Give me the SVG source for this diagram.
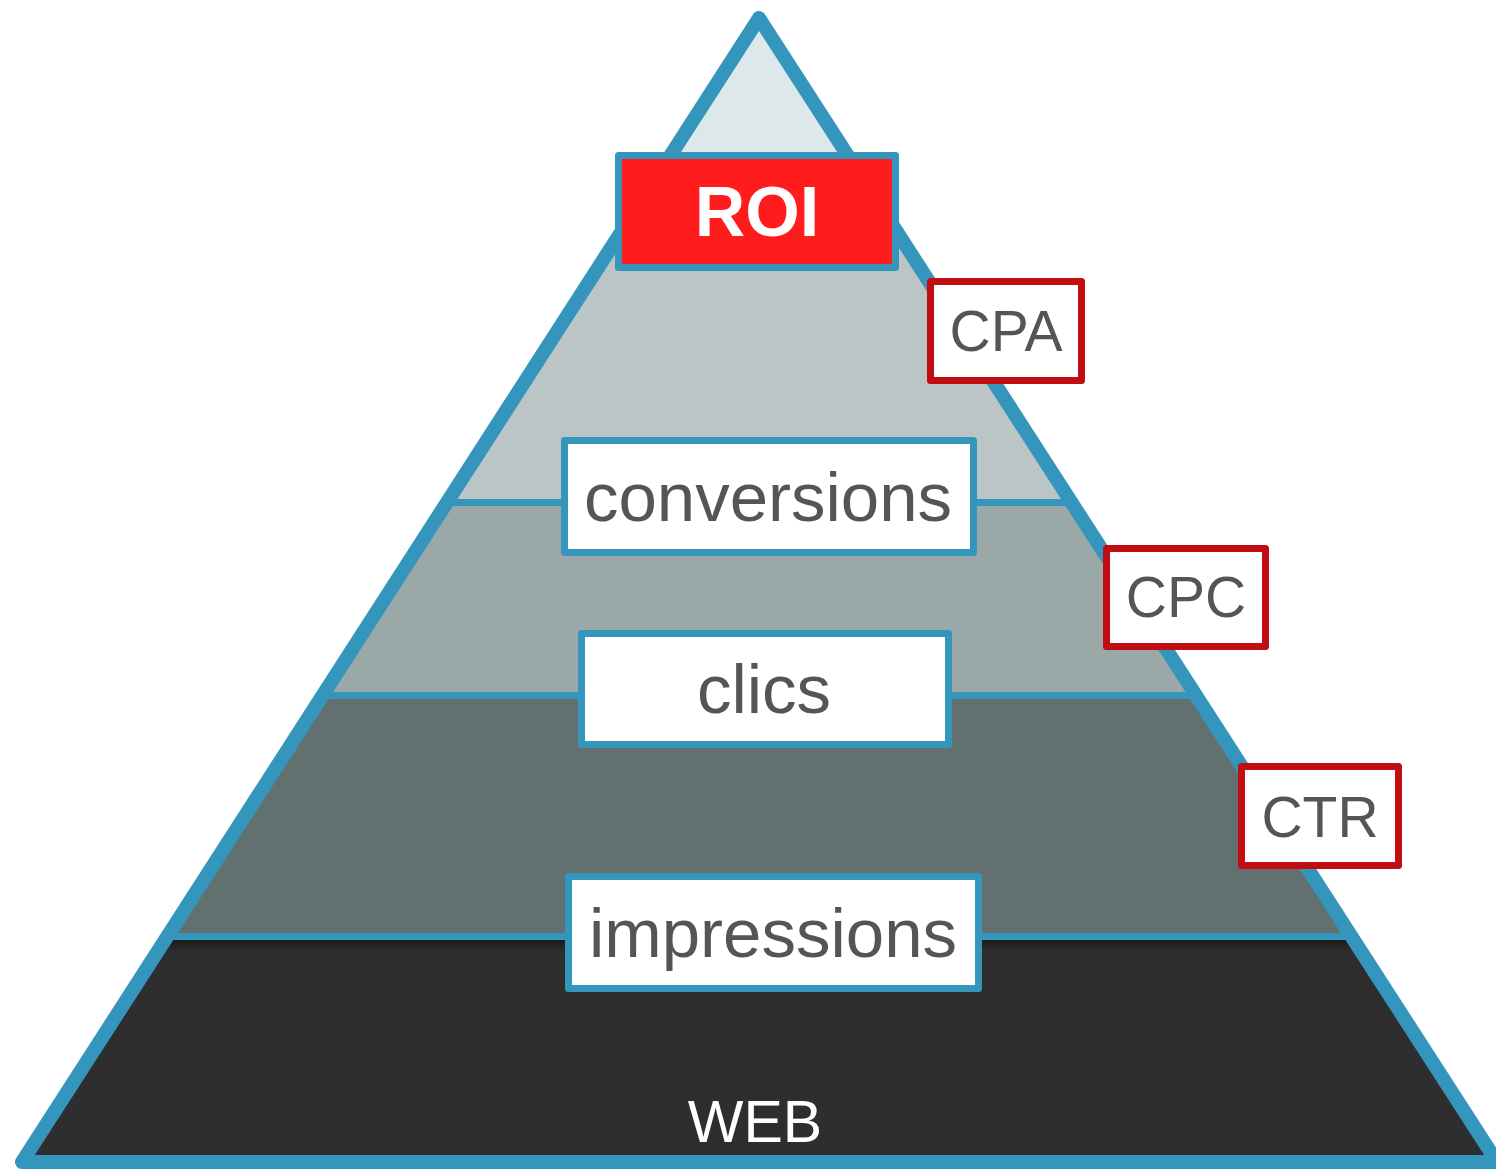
<svg xmlns="http://www.w3.org/2000/svg" width="1496" height="1172" viewBox="0 0 1496 1172">
  <style>
    .label { font-family: "Liberation Sans", Arial, sans-serif; text-anchor: middle; }
    .tier-box { fill: #ffffff; stroke: #3596bd; stroke-width: 7; stroke-linejoin: round; }
    .metric-box { fill: #ffffff; stroke: #bf0d12; stroke-width: 7; stroke-linejoin: round; }
    .tier-text { font-size: 69px; fill: #555555; }
    .metric-text { font-size: 57px; fill: #555555; }
    .divider { stroke: #3596bd; stroke-width: 7; }
  </style>
  <defs>
    <clipPath id="pyramid-clip">
      <polygon points="759,18 22,1162 1497,1162"/>
    </clipPath>
    <linearGradient id="under-line" x1="0" y1="0" x2="0" y2="1">
      <stop offset="0" stop-color="#000000" stop-opacity="0.45"/>
      <stop offset="1" stop-color="#000000" stop-opacity="0"/>
    </linearGradient>
    <filter id="soft-shadow" x="-5%" y="-5%" width="110%" height="110%">
      <feDropShadow dx="3" dy="3" stdDeviation="3" flood-color="#000000" flood-opacity="0.3"/>
    </filter>
  </defs>

  <rect width="1496" height="1172" fill="#ffffff"/>

  <!-- pyramid body: stacked tiers -->
  <g id="pyramid" filter="url(#soft-shadow)">
    <g clip-path="url(#pyramid-clip)">
      <rect x="0" y="0" width="1496" height="240" fill="#dde8eb"/>
      <rect x="0" y="240" width="1496" height="262" fill="#bbc5c6"/>
      <rect x="0" y="502" width="1496" height="193" fill="#9ba8a8"/>
      <rect x="0" y="695" width="1496" height="241" fill="#626f6f"/>
      <rect x="0" y="936" width="1496" height="236" fill="#2f2f2f"/>
      <rect x="0" y="940" width="1496" height="12" fill="url(#under-line)"/>
    </g>
  </g>

  <!-- horizontal tier separators -->
  <g id="connectors" clip-path="url(#pyramid-clip)">
    <line class="divider" x1="0" y1="502.5" x2="1496" y2="502.5"/>
    <line class="divider" x1="0" y1="695.5" x2="1496" y2="695.5"/>
    <line class="divider" x1="0" y1="936.5" x2="1496" y2="936.5"/>
  </g>

  <!-- pyramid outline -->
  <g id="outline">
    <polygon points="759,18 22,1162 1497,1162" fill="none" stroke="#3596bd" stroke-width="14" stroke-linejoin="round"/>
  </g>

  <!-- tier labels -->
  <g id="roi">
    <rect x="618.5" y="155.5" width="277" height="112" fill="#ff1c1c" stroke="#3596bd" stroke-width="7" stroke-linejoin="round"/>
    <text class="label" x="757" y="236" font-size="70" font-weight="bold" fill="#ffffff">ROI</text>
  </g>
  <g id="conversions">
    <rect class="tier-box" x="564.5" y="440.5" width="409" height="112"/>
    <text class="label tier-text" x="768" y="521">conversions</text>
  </g>
  <g id="clics">
    <rect class="tier-box" x="581.5" y="633.5" width="367" height="111"/>
    <text class="label tier-text" x="764" y="713">clics</text>
  </g>
  <g id="impressions">
    <rect class="tier-box" x="568.5" y="876.5" width="410" height="112"/>
    <text class="label tier-text" x="773" y="957">impressions</text>
  </g>
  <g id="web">
    <text class="label" x="755" y="1142" font-size="59" fill="#ffffff">WEB</text>
  </g>

  <!-- ratio labels along the right edge -->
  <g id="cpa">
    <rect class="metric-box" x="930.5" y="281.5" width="151" height="99"/>
    <text class="label metric-text" x="1006" y="351">CPA</text>
  </g>
  <g id="cpc">
    <rect class="metric-box" x="1106.5" y="548.5" width="159" height="98"/>
    <text class="label metric-text" x="1186" y="617">CPC</text>
  </g>
  <g id="ctr">
    <rect class="metric-box" x="1241.5" y="766.5" width="157" height="99"/>
    <text class="label metric-text" x="1320" y="837">CTR</text>
  </g>
</svg>
